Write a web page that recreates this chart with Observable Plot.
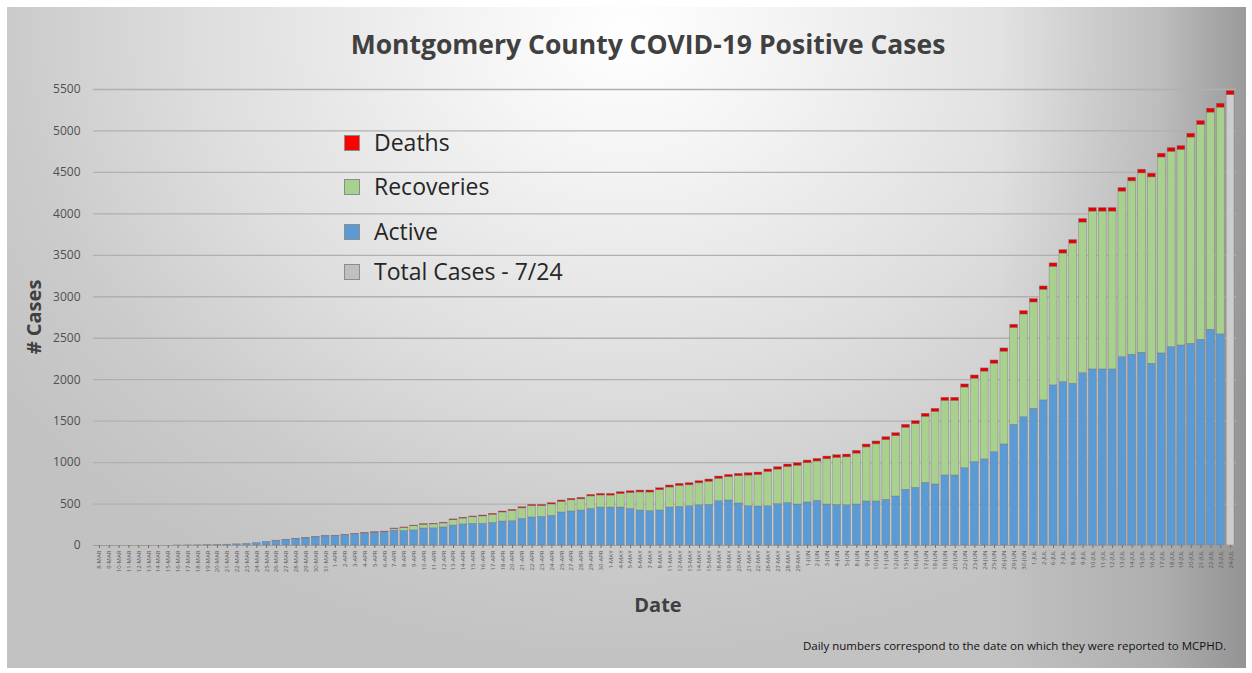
<!DOCTYPE html>
<html>
<head>
<meta charset="utf-8">
<script src="https://cdn.jsdelivr.net/npm/d3@7"></script>
<script src="https://cdn.jsdelivr.net/npm/@observablehq/plot@0.6"></script>
<style>
  html, body { margin: 0; padding: 0; background: #ffffff; }
  #wrap { position: relative; width: 1252px; height: 673px; overflow: hidden; background: #fff; }
  #panel {
    position: absolute; left: 7px; top: 7px; width: 1239px; height: 661px;
    background:
      linear-gradient(to right, rgba(0,0,0,0) 80%, rgba(0,0,0,0.10) 93%, rgba(0,0,0,0.24) 100%),
      radial-gradient(ellipse 62% 95% at 50% 4%, #ffffff 0%, #f3f3f3 22%, #dedede 55%, #cbcbcb 80%, #c2c2c2 100%);
  }
  #chart { position: absolute; left: 0; top: 0; }
  .t { position: absolute; font-family: "Open Sans", sans-serif; color: #404040; white-space: nowrap; }
  #title { left: 0; width: 1296px; top: 26px; text-align: center; font-size: 26.5px; font-weight: 700; }
  #ylab { left: 33px; top: 317px; font-size: 20px; font-weight: 700; transform: translate(-50%, -50%) rotate(-90deg); }
  #xlab { left: 658px; top: 604px; font-size: 20px; font-weight: 700; transform: translate(-50%, -50%); }
  #caption { right: 26px; top: 638px; font-size: 11.5px; color: #111; }
  .lg { position: absolute; font-family: "Open Sans", sans-serif; font-size: 23px; color: #262626; white-space: nowrap; }
  .sw { position: absolute; width: 16px; height: 16px; border: 1px solid #8c8c8c; box-sizing: border-box; }
</style>
</head>
<body>
<div id="wrap">
  <div id="panel"></div>
  <div id="chart"></div>
  <div class="t" id="title">Montgomery County COVID-19 Positive Cases</div>
  <div class="t" id="ylab"># Cases</div>
  <div class="t" id="xlab">Date</div>
  <div class="t" id="caption">Daily numbers correspond to the date on which they were reported to MCPHD.</div>
  <div id="legend"></div>
</div>
<script>
const dates = ["8-MAR","9-MAR","10-MAR","11-MAR","12-MAR","13-MAR","14-MAR","15-MAR","16-MAR","17-MAR",
  "18-MAR","19-MAR","20-MAR","21-MAR","22-MAR","23-MAR","24-MAR","25-MAR","26-MAR","27-MAR",
  "28-MAR","29-MAR","30-MAR","31-MAR","1-APR","2-APR","3-APR","4-APR","5-APR","6-APR",
  "7-APR","8-APR","9-APR","10-APR","11-APR","12-APR","13-APR","14-APR","15-APR","16-APR",
  "17-APR","18-APR","20-APR","21-APR","22-APR","23-APR","24-APR","25-APR","27-APR","28-APR",
  "29-APR","30-APR","1-MAY","4-MAY","5-MAY","6-MAY","7-MAY","8-MAY","11-MAY","12-MAY",
  "13-MAY","14-MAY","15-MAY","18-MAY","19-MAY","20-MAY","21-MAY","22-MAY","26-MAY","27-MAY",
  "28-MAY","29-MAY","1-JUN","2-JUN","3-JUN","4-JUN","5-JUN","8-JUN","9-JUN","10-JUN",
  "11-JUN","12-JUN","15-JUN","16-JUN","17-JUN","18-JUN","19-JUN","20-JUN","22-JUN","23-JUN",
  "24-JUN","25-JUN","26-JUN","29-JUN","30-JUN","1-JUL","2-JUL","6-JUL","7-JUL","8-JUL",
  "9-JUL","10-JUL","11-JUL","12-JUL","13-JUL","14-JUL","15-JUL","16-JUL","17-JUL","18-JUL",
  "19-JUL","20-JUL","21-JUL","22-JUL","23-JUL","24-JUL"];

const active = [0,0,0,0,0,0,0,0,1,2,
  3,5,7,10,14,20,30,45,57,69,
  80,86,98,109,115,125,137,145,155,162,
  180,175,182,205,207,218,240,255,262,261,
  273,289,293,322,338,346,358,398,410,422,
  442,458,458,458,442,422,414,422,458,466,
  474,486,490,535,543,507,474,470,474,498,
  511,494,519,539,494,490,486,494,531,531,
  551,591,672,696,756,736,845,845,933,1006,
  1038,1126,1219,1456,1548,1649,1750,1931,1971,1951,
  2079,2124,2124,2124,2272,2301,2325,2192,2317,2393,
  2413,2433,2482,2602,2546,0];

const recoveries = [0,0,0,0,0,0,0,0,0,0,
  0,0,0,0,0,0,0,0,0,0,
  0,0,0,0,0,0,0,0,0,0,
  19,36,51,45,47,48,66,70,78,90,
  97,109,124,126,137,129,137,128,135,135,
  150,145,144,163,191,218,225,245,241,253,
  252,264,279,270,281,329,369,381,413,417,
  435,468,474,474,546,566,577,614,652,689,
  720,728,748,767,796,875,899,899,972,1006,
  1059,1066,1118,1167,1238,1282,1334,1430,1550,1690,
  1816,1903,1903,1903,1996,2091,2163,2248,2363,2355,
  2359,2487,2591,2619,2735,0];

const deaths = [0,0,0,0,0,0,0,0,0,0,
  0,0,0,0,0,0,0,0,1,1,
  2,2,2,3,3,4,4,5,5,6,
  6,7,7,8,8,9,9,10,10,11,
  12,12,13,14,15,15,16,17,18,18,
  19,20,21,22,22,23,24,24,25,25,
  26,26,27,27,28,28,29,29,30,30,
  31,31,32,32,33,33,34,34,35,35,
  36,36,36,37,37,38,38,38,38,39,
  39,40,40,40,41,41,41,42,42,43,
  43,43,43,43,44,44,45,45,46,46,
  46,47,47,48,48,49];

// Total Cases - 7/24 (shown as the last grey bar, deaths stacked on top)
const totalCasesDate = "24-JUL";
const totalCasesValue = 5433;

const yTicks = [0,500,1000,1500,2000,2500,3000,3500,4000,4500,5000,5500];

const seriesNames = ["Active","Total Cases - 7/24","Recoveries","Deaths"];
const seriesColors = ["#5b9bd5","#cdcdcd","#a9d18e","#e60000"];

const rows = [];
dates.forEach((d, i) => {
  rows.push({date: d, series: "Active", value: active[i]});
  rows.push({date: d, series: "Total Cases - 7/24", value: d === totalCasesDate ? totalCasesValue : 0});
  rows.push({date: d, series: "Recoveries", value: recoveries[i]});
  rows.push({date: d, series: "Deaths", value: deaths[i]});
});

const chart = Plot.plot({
  width: 1252,
  height: 673,
  marginTop: 89,
  marginBottom: 128,
  marginLeft: 93,
  marginRight: 16,
  style: {background: "transparent", fontFamily: "'Open Sans', sans-serif", color: "#595959", overflow: "visible"},
  x: {type: "band", domain: dates, padding: 0.2, label: null},
  y: {domain: [0, 5500], label: null},
  color: {domain: seriesNames, range: seriesColors},
  marks: [
    Plot.ruleY(yTicks.slice(1), {stroke: "#b0b0b0", strokeWidth: 1.3}),
    Plot.barY(rows, Plot.stackY({order: seriesNames}, {
      x: "date", y: "value", fill: "series",
      stroke: "#7a7a7a", strokeWidth: 0.5, strokeOpacity: 0.8
    })),
    Plot.ruleY([0], {stroke: "#9c9c9c", strokeWidth: 1}),
    Plot.axisY({ticks: yTicks, tickFormat: d => String(d), tickSize: 0, tickPadding: 13, fontSize: 12, label: null, fill: "#505050"}),
    Plot.axisX({tickRotate: -90, fontSize: 6, tickSize: 3, tickPadding: 2, label: null, stroke: "#8a6a55", fill: "#555555"})
  ]
});
document.getElementById("chart").appendChild(chart);

// Legend
const legendItems = [
  {name: "Deaths", color: "#ff0000", top: 135},
  {name: "Recoveries", color: "#a9d18e", top: 179},
  {name: "Active", color: "#5b9bd5", top: 224},
  {name: "Total Cases - 7/24", color: "#c0c0c0", top: 264}
];
const lg = document.getElementById("legend");
legendItems.forEach(it => {
  const sw = document.createElement("div");
  sw.className = "sw";
  sw.style.left = "344px"; sw.style.top = it.top + "px"; sw.style.background = it.color;
  lg.appendChild(sw);
  const tx = document.createElement("div");
  tx.className = "lg";
  tx.style.left = "374px"; tx.style.top = (it.top - 9) + "px";
  tx.textContent = it.name;
  lg.appendChild(tx);
});
</script>
</body>
</html>
